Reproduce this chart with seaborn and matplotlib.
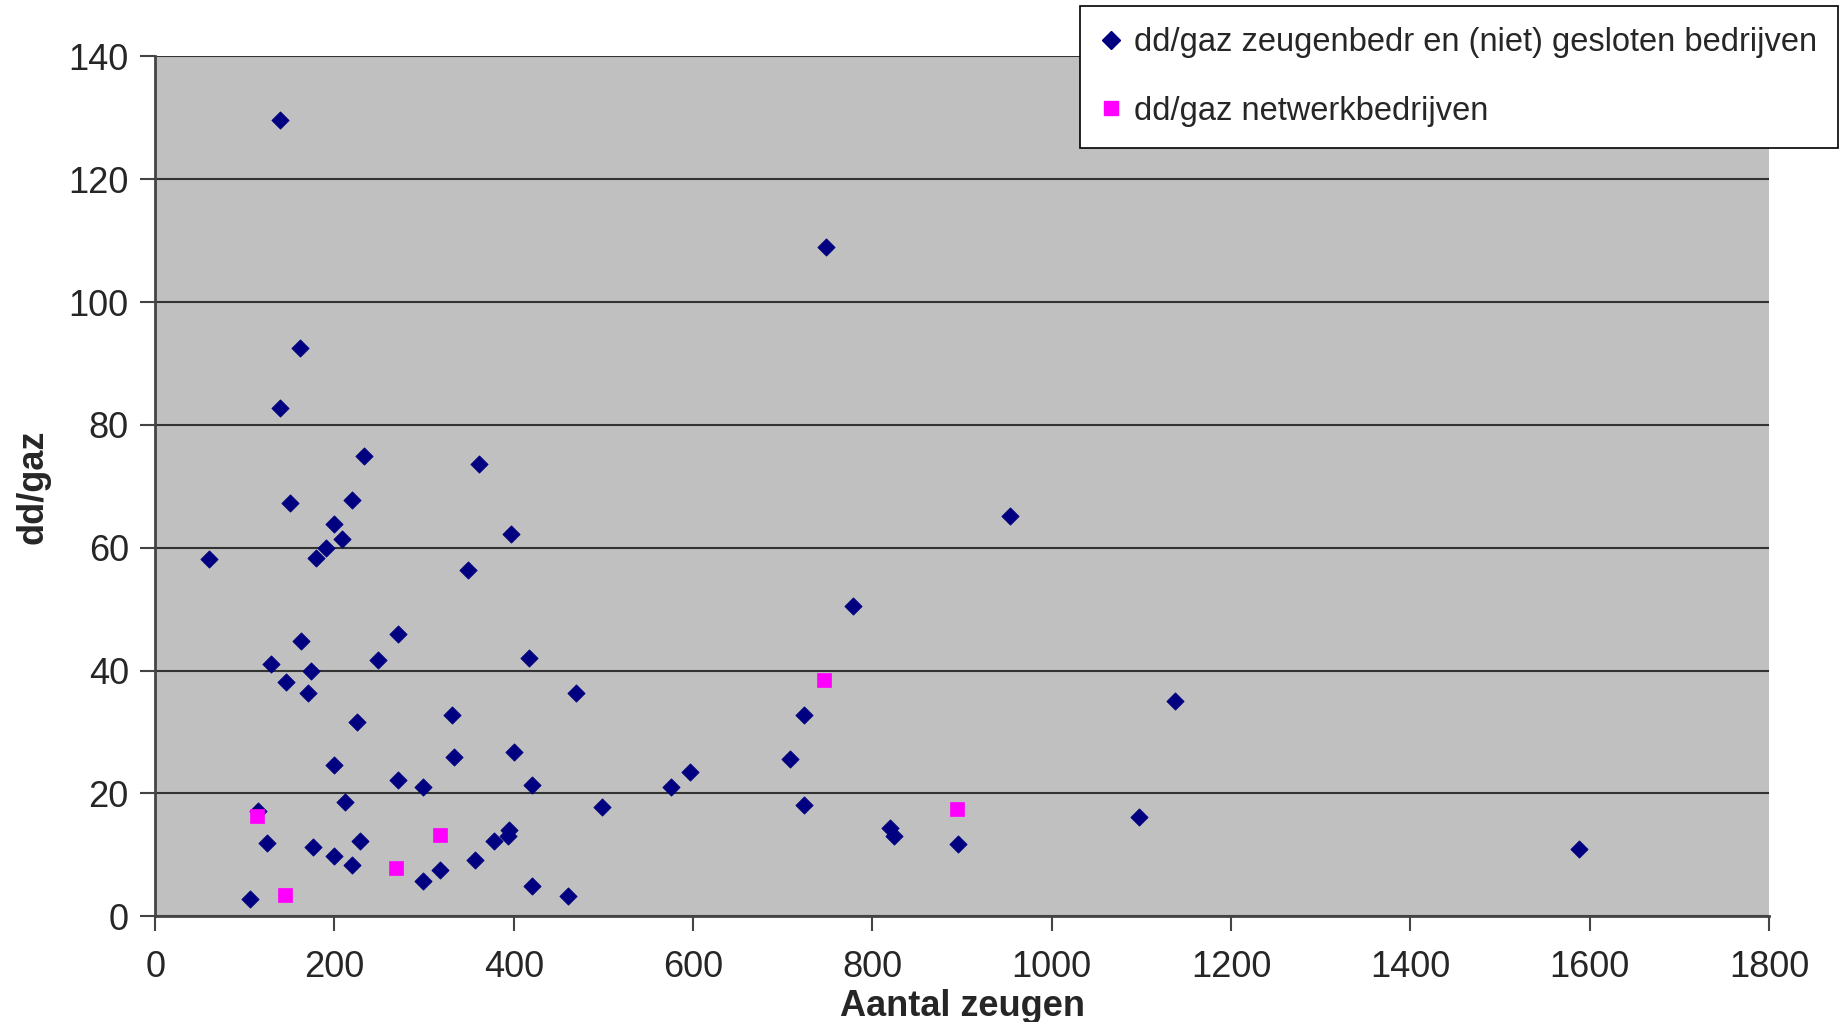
import matplotlib
matplotlib.use("Agg")
import matplotlib.pyplot as plt
import seaborn as sns
import pandas as pd
from matplotlib.lines import Line2D

# Series 1: dd/gaz zeugenbedr en (niet) gesloten bedrijven
zeugen_x = [139, 60, 748, 161, 139, 233, 361, 150, 220, 199, 208, 397, 190, 179,
            349, 953, 778, 163, 271, 248, 417, 129, 174, 146, 170, 469, 1137, 225,
            331, 724, 333, 400, 708, 199, 596, 271, 299, 420, 575, 212, 498, 724,
            115, 1097, 1588, 820, 824, 895, 395, 394, 378, 125, 176, 229, 199, 220,
            357, 318, 299, 420, 460, 106]
zeugen_y = [129.7, 58.1, 109.0, 92.6, 82.8, 75.0, 73.6, 67.3, 67.7, 63.9, 61.4, 62.3,
            59.9, 58.3, 56.4, 65.2, 50.5, 44.9, 45.9, 41.7, 42.1, 41.1, 40.0, 38.2,
            36.3, 36.3, 35.0, 31.6, 32.7, 32.7, 26.0, 26.8, 25.6, 24.7, 23.5, 22.2,
            21.0, 21.4, 21.0, 18.6, 17.8, 18.2, 17.2, 16.1, 10.9, 14.3, 13.0, 11.7,
            14.0, 13.0, 12.2, 11.9, 11.3, 12.2, 9.8, 8.4, 9.2, 7.6, 5.7, 5.0, 3.3, 2.9]

# Series 2: dd/gaz netwerkbedrijven
netwerk_x = [114, 145, 269, 318, 746, 894]
netwerk_y = [16.4, 3.4, 7.8, 13.2, 38.4, 17.4]

series_names = ["dd/gaz zeugenbedr en (niet) gesloten bedrijven", "dd/gaz netwerkbedrijven"]
x_ticks = [0, 200, 400, 600, 800, 1000, 1200, 1400, 1600, 1800]
y_ticks = [0, 20, 40, 60, 80, 100, 120, 140]

df1 = pd.DataFrame({"x": zeugen_x, "y": zeugen_y})
df2 = pd.DataFrame({"x": netwerk_x, "y": netwerk_y})

sns.set_style("white")
plt.rcParams["font.family"] = ["Liberation Sans", "DejaVu Sans"]

fig = plt.figure(figsize=(18.43, 10.22), dpi=100)
ax = fig.add_axes([0.0842, 0.1034, 0.9598 - 0.0842, 0.9448 - 0.1034])
ax.set_facecolor("#C0C0C0")

sns.scatterplot(data=df1, x="x", y="y", ax=ax, marker="D", s=78,
                color="#000080", edgecolor="#000080", linewidth=0.5, zorder=3)
sns.scatterplot(data=df2, x="x", y="y", ax=ax, marker="s", s=105,
                color="#FF00FF", edgecolor="#FF00FF", linewidth=0.5, zorder=3)

ax.set_xlim(0, 1800)
ax.set_ylim(0, 140)
ax.set_xticks(x_ticks)
ax.set_yticks(y_ticks)
ax.set_xticklabels([str(t) for t in x_ticks])
ax.set_yticklabels([str(t) for t in y_ticks])
ax.yaxis.grid(True, color="#333333", linewidth=1.5)
ax.xaxis.grid(False)
ax.set_axisbelow(True)

for side in ["top", "right"]:
    ax.spines[side].set_visible(False)
for side in ["left", "bottom"]:
    ax.spines[side].set_visible(True)
    ax.spines[side].set_color("#444444")
    ax.spines[side].set_linewidth(2)

ax.tick_params(axis="both", which="major", direction="out", length=11, width=1.5,
               color="#444444", labelsize=26, left=True, bottom=True)
ax.tick_params(axis="x", pad=13)
ax.tick_params(axis="y", pad=8)

ax.set_xlabel("Aantal zeugen", fontsize=26, fontweight="bold", labelpad=3)
ax.set_ylabel("dd/gaz", fontsize=26, fontweight="bold", labelpad=13)

handles = [
    Line2D([0], [0], marker="D", linestyle="none", color="#000080", markersize=9),
    Line2D([0], [0], marker="s", linestyle="none", color="#FF00FF", markersize=10),
]
leg = fig.legend(handles, series_names, loc="upper left", bbox_to_anchor=(0.586, 0.994),
                 fontsize=23.5, frameon=True, fancybox=False, edgecolor="black",
                 framealpha=1, labelspacing=1.15, handlelength=0.6, handletextpad=0.4,
                 borderpad=0.65, borderaxespad=0)
leg.get_frame().set_linewidth(1.2)

fig.savefig("out.png", dpi=100, facecolor="white")
